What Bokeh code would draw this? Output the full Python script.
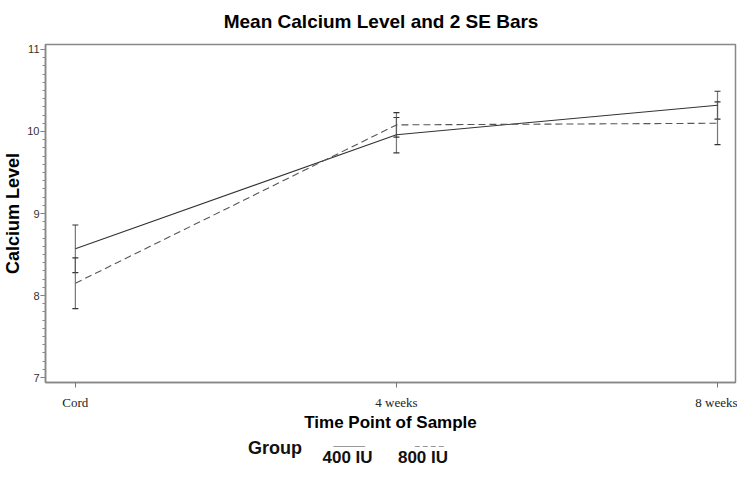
from bokeh.plotting import figure
from bokeh.layouts import column
from bokeh.models import (Whisker, ColumnDataSource, FixedTicker,
                          SingleIntervalTicker, Range1d, TeeHead)
from bokeh.core.properties import value
from bokeh.embed import file_html
from bokeh.resources import INLINE

# ---- data ----
time_points = ["Cord", "4 weeks", "8 weeks"]
x_pos = [0, 1, 2]
mean_400 = [8.57, 9.96, 10.32]
lower_400 = [8.28, 9.74, 10.15]
upper_400 = [8.86, 10.17, 10.49]
mean_800 = [8.15, 10.08, 10.10]
lower_800 = [7.84, 9.93, 9.84]
upper_800 = [8.46, 10.23, 10.36]
groups = ["400 IU", "800 IU"]
title_text = "Mean Calcium Level and 2 SE Bars"

W = 737
BL, BR = 40, 2          # left / right borders of every strip (frames line up)
FL, FR = 43, 738        # frame edges in picture pixels (strip x units)
src = ColumnDataSource(dict(x=x_pos, m4=mean_400, l4=lower_400, u4=upper_400,
                            m8=mean_800, l8=lower_800, u8=upper_800))


def strip(h):
    f = figure(width=W, height=h, output_backend="svg", toolbar_location=None,
               x_range=Range1d(FL, FR), y_range=Range1d(h, 0),
               x_axis_location=None, y_axis_location=None,
               min_border=0, min_border_left=BL, min_border_right=BR,
               min_border_top=0, min_border_bottom=0)
    f.grid.visible = False
    f.outline_line_color = None
    f.background_fill_color = "white"
    f.border_fill_color = "white"
    return f


# ---- title strip ----
TH = 30
top = strip(TH)
top.text(x=[381], y=[21], text=[title_text], text_font=value("Liberation Sans"),
         text_font_size="19px", text_font_style="bold", text_color="black",
         text_baseline="alphabetic", text_align="center")

# ---- main plot ----
LH = 33
MH = 467 - TH - LH
p = figure(width=W, height=MH, output_backend="svg", toolbar_location=None,
           x_range=Range1d(-0.093, 2.056), y_range=Range1d(6.94, 11.06),
           min_border_left=BL, min_border_right=BR, min_border_top=14,
           min_border_bottom=49)
p.background_fill_color = "white"
p.border_fill_color = "white"
p.grid.visible = False
p.outline_line_color = "#888888"
p.outline_line_width = 1.5

for lo, up in (("l4", "u4"), ("l8", "u8")):
    p.add_layout(Whisker(base="x", lower=lo, upper=up, source=src,
                         line_color="#555555", line_alpha=0.8, line_width=1.2,
                         upper_head=TeeHead(size=6, line_color="#333333", line_width=1.2),
                         lower_head=TeeHead(size=6, line_color="#333333", line_width=1.2)))

p.line("x", "m4", source=src, line_color="#333333", line_width=1.1)
p.line("x", "m8", source=src, line_color="#555555", line_width=1.1, line_dash="7 4")

p.xaxis.ticker = FixedTicker(ticks=x_pos)
p.xaxis.major_label_overrides = {x: t for x, t in zip(x_pos, time_points)}
p.xaxis.major_label_text_font = "Liberation Serif"
p.xaxis.major_label_text_font_size = "13px"
p.xaxis.major_label_text_color = "#222222"
p.xaxis.major_label_standoff = 7
p.xaxis.minor_tick_line_color = None
p.xaxis.axis_label = "Time Point of Sample"
p.xaxis.axis_label_text_font = "Liberation Sans"
p.xaxis.axis_label_text_font_size = "17px"
p.xaxis.axis_label_text_font_style = "bold"
p.xaxis.axis_label_standoff = 0
p.xaxis.axis_label_text_color = "black"

p.yaxis.ticker = SingleIntervalTicker(interval=1, num_minor_ticks=10)
p.yaxis.major_label_text_font = "Liberation Sans"
p.yaxis.major_label_text_font_size = "11px"
p.yaxis.major_label_text_color = "#333333"
p.yaxis.major_label_standoff = 1
p.yaxis.axis_label = "Calcium Level"
p.yaxis.axis_label_text_font = "Liberation Sans"
p.yaxis.axis_label_text_font_size = "18px"
p.yaxis.axis_label_text_font_style = "bold"
p.yaxis.axis_label_standoff = 1
p.yaxis.axis_label_text_color = "black"
p.yaxis.minor_tick_line_color = "#888888"
p.yaxis.minor_tick_out = 3
p.yaxis.minor_tick_in = 0

p.axis.axis_line_color = "#888888"
p.axis.axis_line_width = 1.5
p.axis.major_tick_line_color = "#777777"
p.axis.major_tick_out = 5
p.axis.major_tick_in = 0

# ---- legend strip (x in picture pixels, y downward) ----
leg = strip(LH)
leg.text(x=[247], y=[13], text=["Group"], text_font=value("Liberation Sans"),
         text_font_size="18px", text_font_style="bold", text_color="#111111",
         text_baseline="middle", text_align="left")
leg.line(x=[333, 365], y=[12, 12], line_color="#999999", line_width=1.2)
leg.line(x=[415, 447], y=[12, 12], line_color="#999999", line_width=1.2, line_dash="5 3")
leg.text(x=[322, 398], y=[23, 23], text=groups, text_font=value("Liberation Sans"),
         text_font_size="17px", text_font_style="bold", text_color="#111111",
         text_baseline="middle", text_align="left")

layout = column(top, p, leg, spacing=0)
open("out.html", "w").write(file_html(layout, INLINE))
